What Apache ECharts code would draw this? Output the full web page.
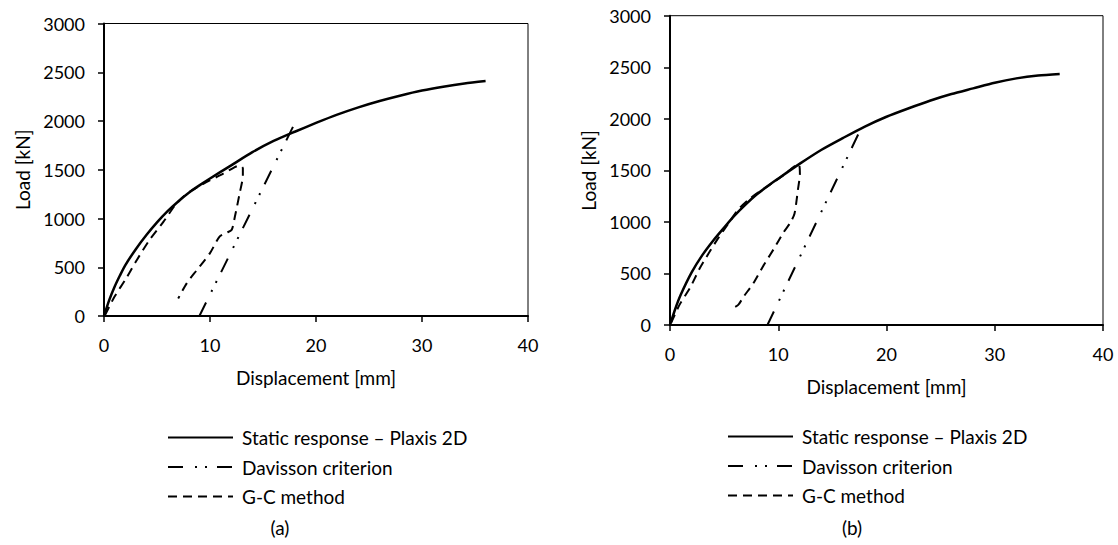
<!DOCTYPE html>
<html>
<head>
<meta charset="utf-8">
<title>Load - displacement</title>
<script src="https://cdn.jsdelivr.net/npm/echarts@6/dist/echarts.min.js"></script>
<style>
  html, body { margin: 0; padding: 0; background: #fff; }
  #chart { width: 1118px; height: 545px; }
</style>
</head>
<body>
<div id="chart"></div>
<script>
// axis ticks
const dispTicks = [0, 10, 20, 30, 40];
const loadTicks = [0, 500, 1000, 1500, 2000, 2500, 3000];

// series names
const names = ['Static response – Plaxis 2D', 'Davisson criterion', 'G-C method'];

// (a) [displacement mm, load kN]
const staticA = [[0, 0], [0.5, 165], [1, 300], [1.5, 415], [2, 520], [3, 685], [4, 830], [5, 960], [6, 1075],
  [7, 1175], [8, 1265], [9, 1340], [10, 1410], [12, 1545], [14, 1680], [16, 1795],
  [18, 1890], [20, 1980], [22, 2065], [24, 2140], [26, 2205], [28, 2262], [30, 2312], [32, 2352], [34, 2385], [36, 2410]];
const davissonA = [[9, 0], [18.1, 2000]];
const gcA = [[0.1, 10], [1.0, 200], [2.0, 370], [3.1, 575], [4.3, 780], [5.6, 965], [6.7, 1135], [7.5, 1225],
  [8.3, 1290], [9.7, 1375], [11.25, 1460], [12.3, 1525], [12.8, 1545], [13.1, 1515], [13.1, 1440], [12.8, 1260],
  [12.35, 1020], [12.05, 885], [11.6, 855], [10.9, 815], [10.0, 645], [8.75, 470], [7.8, 335], [7.0, 180]];

// (b)
const staticB = [[0, 0], [0.5, 160], [1, 295], [2, 510], [3, 680], [4, 820], [5, 945], [6, 1065], [7, 1170],
  [8, 1265], [9, 1345], [10, 1420], [12, 1565], [14, 1700], [16, 1815], [18, 1925], [20, 2020], [22, 2100],
  [24, 2175], [26, 2240], [28, 2295], [30, 2350], [32, 2392], [34, 2420], [36, 2435]];
const davissonB = [[9, 0], [17.8, 1940]];
const gcB = [[0.1, 20], [0.9, 200], [1.85, 360], [2.7, 540], [3.6, 700], [4.5, 850], [5.5, 1000], [6.3, 1120],
  [7.3, 1220], [8.5, 1310], [9.5, 1380], [10.5, 1455], [11.5, 1540], [11.9, 1560], [12.0, 1470], [11.8, 1300],
  [11.5, 1080], [11.1, 990], [10.5, 900], [9.6, 740], [8.6, 570], [7.7, 405], [6.8, 275], [6.3, 195], [5.7, 160]];

const font = 'Lato, "Open Sans", sans-serif';
const ink = '#000';

function xAxisFor(idx) {
  return {
    type: 'value', gridIndex: idx,
    min: dispTicks[0], max: dispTicks[dispTicks.length - 1], interval: dispTicks[1] - dispTicks[0],
    name: 'Displacement [mm]', nameLocation: 'middle', nameGap: 52,
    nameTextStyle: { fontSize: 19, color: ink, fontFamily: font },
    axisLine: { show: true, onZero: false, lineStyle: { color: ink, width: 2 } },
    axisTick: { show: true, length: 6, lineStyle: { color: ink, width: 1.5 } },
    axisLabel: { fontSize: 18, color: ink, fontFamily: font, margin: 20, formatter: v => String(v) },
    splitLine: { show: false }
  };
}
function yAxisFor(idx) {
  return {
    type: 'value', gridIndex: idx,
    min: loadTicks[0], max: loadTicks[loadTicks.length - 1], interval: loadTicks[1] - loadTicks[0],
    name: 'Load [kN]', nameLocation: 'middle', nameGap: 72,
    nameTextStyle: { fontSize: 19, color: ink, fontFamily: font },
    axisLine: { show: true, onZero: false, lineStyle: { color: ink, width: 2 } },
    axisTick: { show: true, length: 6, lineStyle: { color: ink, width: 1.5 } },
    axisLabel: { fontSize: 18, color: ink, fontFamily: font, margin: 19, formatter: v => String(v) },
    splitLine: { show: false }
  };
}

const styles = [
  { width: 2.5, type: 'solid' },
  { width: 2, type: [15, 12, 2, 8, 2, 10] },
  { width: 2, type: [9, 6] }
];

function seriesFor(idx, sets) {
  return sets.map(function (d, i) {
    return {
      name: names[i], type: 'line', xAxisIndex: idx, yAxisIndex: idx,
      data: d, symbol: 'none', smooth: i === 1 ? false : 0.25,
      lineStyle: { color: ink, width: styles[i].width, type: styles[i].type, cap: 'butt' },
      itemStyle: { color: ink },
      emphasis: { disabled: true },
      animation: false
    };
  });
}

function legendAt(left, top) {
  return {
    left: left, top: top, orient: 'vertical', selectedMode: false, padding: 0,
    itemWidth: 65, itemHeight: 14, itemGap: 10.5,
    itemStyle: { opacity: 0 },
    data: names,
    textStyle: { fontSize: 19, lineHeight: 18, color: ink, fontFamily: font, padding: [0, 0, 0, 4] }
  };
}

const chart = echarts.init(document.getElementById('chart'), null, { renderer: 'svg' });
chart.setOption({
  animation: false,
  backgroundColor: '#fff',
  grid: [
    { left: 104, top: 23.5, width: 424, height: 292.5, show: true, borderColor: ink, borderWidth: 1 },
    { left: 670, top: 15.7, width: 433, height: 309.3, show: true, borderColor: ink, borderWidth: 1 }
  ],
  xAxis: [xAxisFor(0), xAxisFor(1)],
  yAxis: [yAxisFor(0), yAxisFor(1)],
  legend: [legendAt(167, 428), legendAt(727, 427)],
  series: seriesFor(0, [staticA, davissonA, gcA]).concat(seriesFor(1, [staticB, davissonB, gcB])),
  graphic: [
    { type: 'text', x: 280, y: 527, style: { text: '(a)', fontSize: 19, fontFamily: font, fill: ink, align: 'center', verticalAlign: 'middle' } },
    { type: 'text', x: 852, y: 527, style: { text: '(b)', fontSize: 19, fontFamily: font, fill: ink, align: 'center', verticalAlign: 'middle' } }
  ]
});
</script>
</body>
</html>
